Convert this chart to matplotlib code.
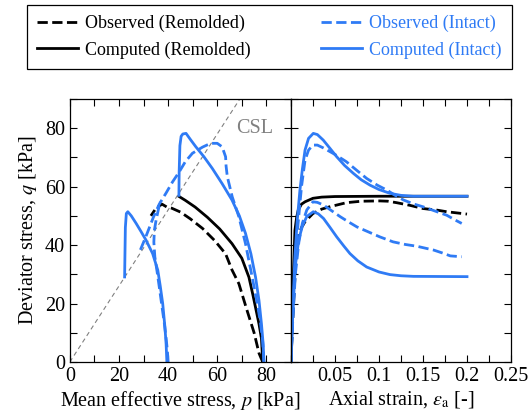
import matplotlib
matplotlib.use('Agg')
import matplotlib.pyplot as plt
from matplotlib.lines import Line2D
from matplotlib.ticker import MultipleLocator

plt.rcParams['font.family'] = ['Liberation Serif', 'DejaVu Serif']
plt.rcParams['mathtext.fontset'] = 'stix'

blue = '#2f7bf5'

# ---- stress paths (p, q) ----
p_obs_rem = [78.5, 77, 75, 72, 68.8, 66, 63.4, 59, 54, 49, 45, 41.5, 39.5, 37.5, 35, 33]
q_obs_rem = [0, 3, 10, 18, 26.8, 31.5, 37, 41.5, 45.7, 49, 51.3, 52.6, 53, 54, 52.5, 50]

p_comp_rem = [78.5, 78, 77, 76, 74.5, 72.9, 70, 66, 61, 56, 51, 47, 44.5]
q_comp_rem = [0, 8, 13, 17, 23, 29, 35.5, 40.5, 45.5, 49.5, 53, 55.3, 56.6]

p_comp_int40 = [39.5, 39.2, 38.7, 37.8, 36.8, 35.8, 33.7, 31, 29, 27, 25, 23.6, 23.0, 22.6, 22.3]
q_comp_int40 = [0, 6, 12, 20, 26, 31.4, 37.1, 41.7, 44.6, 47.4, 50, 51.4, 50.8, 46, 29.1]

p_comp_int80 = [79, 78.7, 78, 77, 75.6, 73.7, 71.5, 69, 66, 62, 58, 54.5, 51.3, 49, 47.3, 46, 45.3, 44.8, 44.5, 44.4]
q_comp_int80 = [0, 6, 13, 21, 29, 37, 44, 50, 55.4, 61, 66.2, 70.3, 73.6, 76.2, 78.2, 78, 77.2, 74, 65, 57]

p_obs_int40 = [40, 39.7, 39.2, 38.5, 37.5, 36.4, 35.5, 34.6, 34.2, 34.4, 35.1, 36, 36.8]
q_obs_int40 = [0, 4, 8, 13, 19, 25.7, 31, 36, 41, 45, 48.5, 52, 55]

p_obs_int80 = [79, 78.5, 77.5, 76.3, 74.2, 71.5, 68.8, 66.1, 64.1, 63.6, 63.4, 62, 60, 57.3, 54,
               49.9, 47, 44.5, 41.8, 39.1, 36.4, 34, 31, 28.3]
q_obs_int80 = [0, 7, 14, 20, 29.1, 40.5, 49.7, 56.5, 63.4, 67, 70.2, 73.6, 74.8, 74.8, 73.5,
               71.4, 68.5, 65, 61.6, 57.7, 54, 49.5, 43, 37.5]

M_csl = 1.3
p_csl = [0, 90]

# ---- stress-strain (ea, q) ----
e_comp_int80 = [0, 0.002, 0.0045, 0.007, 0.0102, 0.013, 0.016, 0.02, 0.0254, 0.03, 0.0367, 0.044,
                0.052, 0.061, 0.071, 0.08, 0.0898, 0.1, 0.1125, 0.125, 0.139, 0.16, 0.2]
qe_comp_int80 = [0, 18, 36, 48, 58.8, 66, 72.5, 76.5, 78.2, 77.8, 75.9, 73.2,
                 70.2, 67.2, 64.5, 62.3, 60.5, 59, 57.7, 57, 56.7, 56.7, 56.7]

e_obs_int80 = [0, 0.002, 0.005, 0.008, 0.012, 0.016, 0.02, 0.025, 0.03, 0.037, 0.05, 0.063, 0.075,
               0.086, 0.098, 0.109, 0.12, 0.128, 0.14, 0.15, 0.165, 0.177, 0.187, 0.194]
qe_obs_int80 = [0, 16, 33, 47, 60, 69, 72.5, 74.2, 74.2, 73.2, 71, 68.5, 65.5,
                62.8, 60.5, 58.8, 56.7, 55.4, 54, 53.1, 51.5, 50.2, 48.5, 47.4]

e_comp_rem = [0, 0.0015, 0.003, 0.0045, 0.0065, 0.0083, 0.012, 0.016, 0.025, 0.035, 0.05, 0.1, 0.2]
qe_comp_rem = [0, 16, 32, 45, 49.5, 52, 54, 54.8, 56, 56.4, 56.6, 56.7, 56.7]

e_obs_rem = [0, 0.002, 0.005, 0.0083, 0.012, 0.016, 0.025, 0.035, 0.044, 0.063, 0.08, 0.101,
             0.11, 0.12, 0.135, 0.15, 0.165, 0.177, 0.2]
qe_obs_rem = [0, 14, 32, 42.8, 46, 48, 50.8, 52.3, 53.1, 54.5, 55, 55.1,
              55, 54.5, 53.6, 52.5, 52, 51.4, 50.6]

e_obs_int40 = [0, 0.002, 0.005, 0.009, 0.013, 0.018, 0.025, 0.03, 0.037, 0.045, 0.056, 0.065,
               0.075, 0.088, 0.101, 0.116, 0.13, 0.143, 0.162, 0.172, 0.181, 0.194]
qe_obs_int40 = [0, 14, 30, 41, 47.5, 52, 54.8, 54.6, 53.7, 52, 49.7, 48,
                46.2, 44.5, 42.8, 41.1, 40.2, 39.6, 38.3, 37.3, 36.3, 36]

e_comp_int40 = [0, 0.002, 0.005, 0.009, 0.013, 0.018, 0.0254, 0.031, 0.037, 0.044, 0.052, 0.06,
                0.067, 0.076, 0.086, 0.1, 0.1125, 0.125, 0.139, 0.2]
qe_comp_int40 = [0, 16, 33, 42, 46.5, 49.8, 51.4, 50.7, 49.1, 46.2, 42.8, 39.7,
                 37.1, 34.6, 32.5, 30.8, 29.9, 29.5, 29.3, 29.2]

lw = 2.0
fs = 14.5

fig = plt.figure(figsize=(5.29, 4.19), dpi=100)
ax1 = fig.add_axes([0.132, 0.136, 0.418, 0.628])
ax2 = fig.add_axes([0.550, 0.136, 0.416, 0.628])

#--------------------------------- p-q
ax1.plot(p_csl, [M_csl * p for p in p_csl], color='grey', lw=0.8, dashes=(4, 3))
ax1.text(67.5, 80, 'CSL', color='grey', fontsize=fs, va='center')
ax1.plot(p_obs_rem, q_obs_rem, 'k--', lw=lw)
ax1.plot(p_comp_rem, q_comp_rem, 'k-', lw=lw)
ax1.plot(p_obs_int40, q_obs_int40, '--', color=blue, lw=lw)
ax1.plot(p_obs_int80, q_obs_int80, '--', color=blue, lw=lw)
ax1.plot(p_comp_int40, q_comp_int40, '-', color=blue, lw=lw)
ax1.plot(p_comp_int80, q_comp_int80, '-', color=blue, lw=lw)
ax1.set_xlim(0, 90)
ax1.set_ylim(0, 90)
ax1.set_xticks([0, 20, 40, 60, 80])
ax1.xaxis.set_minor_locator(MultipleLocator(10))
ax1.set_yticks([0, 20, 40, 60, 80])
ax1.yaxis.set_minor_locator(MultipleLocator(10))
ax1.set_xlabel('Mean effective stress, $p$ [kPa]', fontsize=fs, labelpad=2)
ax1.set_ylabel('Deviator stress, $q$ [kPa]', fontsize=fs, labelpad=4)

#--------------------------------- ea-q
ax2.plot(e_obs_rem, qe_obs_rem, 'k--', lw=lw)
ax2.plot(e_comp_rem, qe_comp_rem, 'k-', lw=lw)
ax2.plot(e_obs_int80, qe_obs_int80, '--', color=blue, lw=lw)
ax2.plot(e_obs_int40, qe_obs_int40, '--', color=blue, lw=lw)
ax2.plot(e_comp_int80, qe_comp_int80, '-', color=blue, lw=lw)
ax2.plot(e_comp_int40, qe_comp_int40, '-', color=blue, lw=lw)
ax2.set_xlim(0, 0.25)
ax2.set_ylim(0, 90)
ax2.set_xticks([0.05, 0.1, 0.15, 0.2, 0.25])
ax2.set_xticklabels(['0.05', '0.1', '0.15', '0.2', '0.25'])
ax2.xaxis.set_minor_locator(MultipleLocator(0.025))
ax2.set_yticks([0, 20, 40, 60, 80])
ax2.yaxis.set_minor_locator(MultipleLocator(10))
ax2.set_yticklabels([])
ax2.set_xlabel(r'Axial strain, $\varepsilon_{\rm a}$ [-]', fontsize=fs, labelpad=2)

for ax in (ax1, ax2):
    ax.tick_params(which='both', direction='in', top=True, right=True, length=5, width=0.8,
                   labelsize=fs)
    for s in ax.spines.values():
        s.set_linewidth(0.9)

handles = [Line2D([], [], color='k', ls='--', lw=lw),
           Line2D([], [], color='k', ls='-', lw=lw),
           Line2D([], [], color=blue, ls='--', lw=lw),
           Line2D([], [], color=blue, ls='-', lw=lw)]
labels = ['Observed (Remolded)', 'Computed (Remolded)',
          'Observed (Intact)', 'Computed (Intact)']
leg = fig.legend(handles, labels, ncol=2, loc='upper left', mode='expand',
                 bbox_to_anchor=(0.0505, 0.988, 0.917, 0.0), fontsize=13,
                 fancybox=False, edgecolor='k', framealpha=1, handlelength=2.3,
                 handletextpad=0.4, borderaxespad=0, labelspacing=0.5, borderpad=0.55)
leg.get_frame().set_linewidth(0.9)
for t in leg.get_texts()[2:]:
    t.set_color(blue)

fig.savefig('out.png', dpi=100)
